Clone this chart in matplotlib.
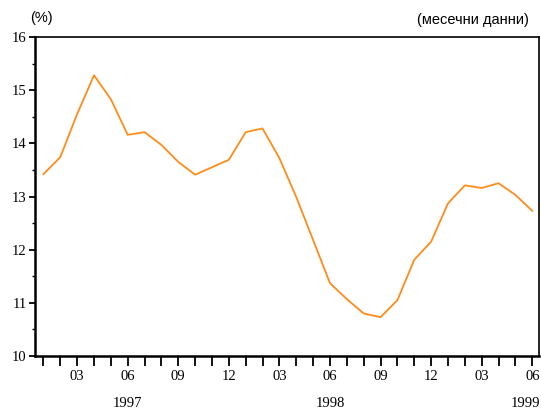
import numpy as np
import matplotlib
matplotlib.use("Agg")
import matplotlib.pyplot as plt
from matplotlib.ticker import MultipleLocator

# monthly data, 1997-01 .. 1999-06
months = ["01", "02", "03", "04", "05", "06", "07", "08", "09", "10", "11", "12"] * 2 + \
         ["01", "02", "03", "04", "05", "06"]
values = [13.42, 13.74, 14.55, 15.28, 14.83, 14.16, 14.21, 13.97, 13.65, 13.41, 13.55, 13.69,
          14.21, 14.28, 13.72, 12.99, 12.18, 11.37, 11.07, 10.80, 10.73, 11.05, 11.81, 12.15,
          12.87, 13.21, 13.16, 13.25, 13.03, 12.73]
years = ["1997", "1998", "1999"]
year_pos = [5, 17, 28.6]
tick_labels = [m if m in ("03", "06", "09", "12") else "" for m in months]

serif = "Liberation Serif"
sans = "Liberation Sans"

fig = plt.figure(figsize=(5.41, 4.09), dpi=100)
ax = fig.add_axes([35 / 541, 1 - 356 / 409, 504 / 541, 319 / 409])

x = np.arange(len(values))
ax.plot(x, values, color="#ff8c1a", lw=1.3)

ax.set_xlim(-0.5, 29.4)
ax.set_ylim(10, 16)

ax.set_xticks(x)
ax.set_xticklabels(tick_labels, fontfamily=serif, fontsize=10.5)
ax.tick_params(axis="x", direction="out", length=7, width=1.3, pad=3)

ax.yaxis.set_major_locator(MultipleLocator(1))
ax.yaxis.set_minor_locator(MultipleLocator(0.5))
for lab in ax.get_yticklabels():
    lab.set_fontfamily(serif)
    lab.set_fontsize(10.5)
ax.tick_params(axis="y", which="major", direction="out", length=4, width=1.3, pad=2)
ax.tick_params(axis="y", which="minor", direction="out", length=2, width=1.0)

ax.spines["left"].set_linewidth(1.8)
ax.spines["bottom"].set_linewidth(1.8)
ax.spines["top"].set_linewidth(1.2)
ax.spines["right"].set_linewidth(1.2)

for yr, p in zip(years, year_pos):
    ax.text(p, -0.148, yr, transform=ax.get_xaxis_transform(), ha="center", va="center",
            fontfamily=serif, fontsize=10.5)

fig.text(30 / 541, 1 - 18 / 409, "(%)", ha="left", va="center", fontfamily=sans, fontsize=10.5)
fig.text(529 / 541, 1 - 20 / 409, "(месечни данни)", ha="right", va="center",
         fontfamily=sans, fontsize=10.5)

fig.savefig("out.png", dpi=100)
